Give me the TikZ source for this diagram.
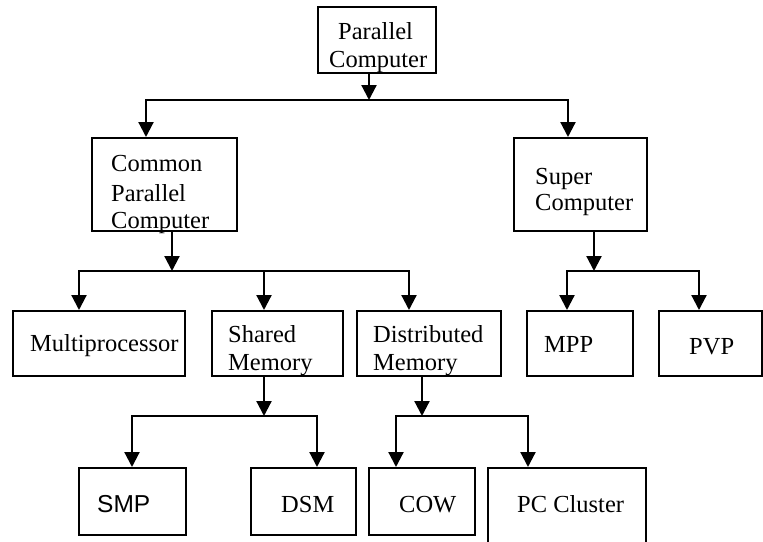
\documentclass[tikz,border=0pt]{standalone}
\usepackage{fontspec}
\setmainfont{Liberation Serif}
\newfontfamily\arialfont{Liberation Sans}
\usetikzlibrary{arrows.meta}

\begin{document}
\begin{tikzpicture}[x=1pt, y=-1pt,
  box/.style={draw=black, line width=2pt, rectangle, inner sep=0pt, fill=white},
  txt/.style={inner sep=0pt, anchor=base west, font=\fontsize{24.5}{29}\selectfont},
  link/.style={line width=2.2pt, -{Triangle[width=15pt,length=15pt]}}]

\useasboundingbox[fill=white] (0,0) rectangle (763,541);

% boxes
\node[box, minimum width=118pt, minimum height=66pt] (top) at (377,40) {};
\node[box, minimum width=145pt, minimum height=93pt] (common) at (164.5,184.5) {};
\node[box, minimum width=133pt, minimum height=93pt] (super) at (580.5,184.5) {};
\node[box, minimum width=172pt, minimum height=65pt] (multi) at (99,343.5) {};
\node[box, minimum width=131pt, minimum height=65pt] (shared) at (277.5,343.5) {};
\node[box, minimum width=144pt, minimum height=65pt] (distr) at (429,343.5) {};
\node[box, minimum width=106pt, minimum height=65pt] (mpp) at (580,343.5) {};
\node[box, minimum width=103pt, minimum height=65pt] (pvp) at (710.5,343.5) {};
\node[box, minimum width=107pt, minimum height=67pt] (smp) at (132.5,501.5) {};
\node[box, minimum width=105pt, minimum height=67pt] (dsm) at (303.5,501.5) {};
\node[box, minimum width=106pt, minimum height=67pt] (cow) at (422,501.5) {};
\node[box, minimum width=158pt, minimum height=80pt] (pcc) at (567,508) {};

% labels
\node[txt] (tTopA) at (338,39) {Parallel};
\node[txt] (tTopB) at (329,67) {Computer};
\node[txt] (tComA) at (111,171) {Common};
\node[txt] (tComB) at (111,201) {Parallel};
\node[txt] (tComC) at (111,228) {Computer};
\node[txt] (tSupA) at (535,184) {Super};
\node[txt] (tSupB) at (535,210) {Computer};
\node[txt] (tMulti) at (30,351) {Multiprocessor};
\node[txt] (tShA) at (228,342) {Shared};
\node[txt] (tShB) at (228,370) {Memory};
\node[txt] (tDiA) at (373,342) {Distributed};
\node[txt] (tDiB) at (373,370) {Memory};
\node[txt] (tMpp) at (544,352) {MPP};
\node[txt] (tPvp) at (689,354) {PVP};
\node[txt, font=\arialfont\fontsize{24.5}{29}\selectfont] (tSmp) at (97,512) {SMP};
\node[txt] (tDsm) at (281,512) {DSM};
\node[txt] (tCow) at (399,512) {COW};
\node[txt] (tPcc) at (517,512) {PC Cluster};

% bus junctions and arrow feet
\coordinate (j0) at (369,100);
\coordinate (j1) at (172,271);
\coordinate (j2) at (594,271);
\coordinate (j3) at (264,416);
\coordinate (j4) at (422,416);
\coordinate (fCommon) at (146,0);
\coordinate (fSuper) at (568,0);
\coordinate (fMulti) at (79,0);
\coordinate (fShared) at (264,0);
\coordinate (fDistr) at (409,0);
\coordinate (fMpp) at (567,0);
\coordinate (fPvp) at (699,0);
\coordinate (fSmp) at (132,0);
\coordinate (fDsm) at (317,0);
\coordinate (fCow) at (396,0);
\coordinate (fPcc) at (528,0);

% connectors
\draw[link] (top.south -| j0) -- (j0);
\draw[link] (j0) -| (common.north -| fCommon);
\draw[link] (j0) -| (super.north -| fSuper);

\draw[link] (common.south -| j1) -- (j1);
\draw[link] (j1) -| (multi.north -| fMulti);
\draw[link] (j1) -| (shared.north -| fShared);
\draw[link] (j1) -| (distr.north -| fDistr);

\draw[link] (super.south -| j2) -- (j2);
\draw[link] (j2) -| (mpp.north -| fMpp);
\draw[link] (j2) -| (pvp.north -| fPvp);

\draw[link] (shared.south -| j3) -- (j3);
\draw[link] (j3) -| (smp.north -| fSmp);
\draw[link] (j3) -| (dsm.north -| fDsm);

\draw[link] (distr.south -| j4) -- (j4);
\draw[link] (j4) -| (cow.north -| fCow);
\draw[link] (j4) -| (pcc.north -| fPcc);
\end{tikzpicture}
\end{document}
